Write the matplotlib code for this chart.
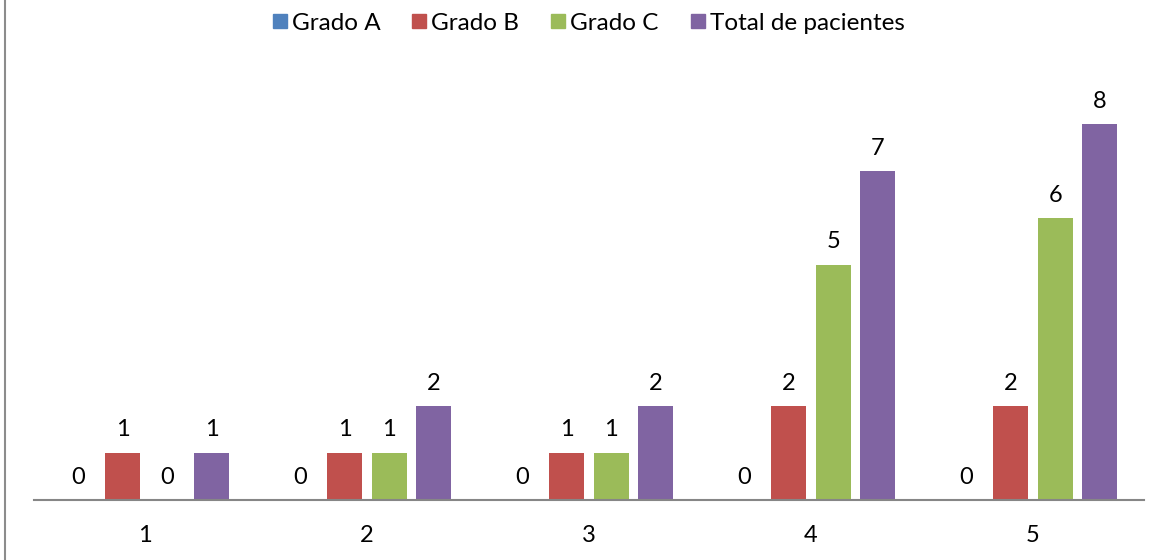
import numpy as np
import matplotlib.pyplot as plt
from matplotlib.lines import Line2D

plt.rcParams['font.family'] = ['Lato', 'DejaVu Sans']

grupos = ["1", "2", "3", "4", "5"]
grado_a = [0, 0, 0, 0, 0]
grado_b = [1, 1, 1, 2, 2]
grado_c = [0, 1, 1, 5, 6]
total = [1, 2, 2, 7, 8]

series = ["Grado A", "Grado B", "Grado C", "Total de pacientes"]
colores = ["#4F81BD", "#C0504D", "#9BBB59", "#8064A2"]

fig = plt.figure(figsize=(11.62, 5.6), dpi=100)
ax = fig.add_axes([34/1162, 60/560, 1110/1162, 423/560])

x = np.arange(len(grupos))
paso = 0.2
ancho = 0.158
for i, (vals, col) in enumerate(zip([grado_a, grado_b, grado_c, total], colores)):
    pos = x + (i - 1.5) * paso
    barras = ax.bar(pos, vals, width=ancho, color=col)
    ax.bar_label(barras, labels=[str(v) for v in vals], padding=9, fontsize=17)

ax.set_xlim(-0.5, len(grupos) - 0.5)
ax.set_ylim(0, 9)
ax.set_xticks(x)
ax.set_xticklabels(grupos, fontsize=17)
ax.tick_params(axis='x', length=0, pad=18)
ax.set_yticks([])
for s in ['top', 'right', 'left']:
    ax.spines[s].set_visible(False)
ax.spines['bottom'].set_color('#868686')
ax.spines['bottom'].set_linewidth(1.5)

handles = [Line2D([], [], marker='s', linestyle='none', markersize=10.5,
                  markerfacecolor=c, markeredgecolor=c) for c in colores]
fig.legend(handles, series, loc='center', bbox_to_anchor=(0.5 + 5/1162, 1 - 23/560),
           ncol=4, frameon=False, fontsize=17.5, handletextpad=0.0,
           columnspacing=1.1, handlelength=1.0)

# borde izquierdo del recuadro
fig.add_artist(Line2D([5/1162, 5/1162], [0, 1], color='#8c8c8c', linewidth=1.5))

fig.savefig("out.png", dpi=100)
